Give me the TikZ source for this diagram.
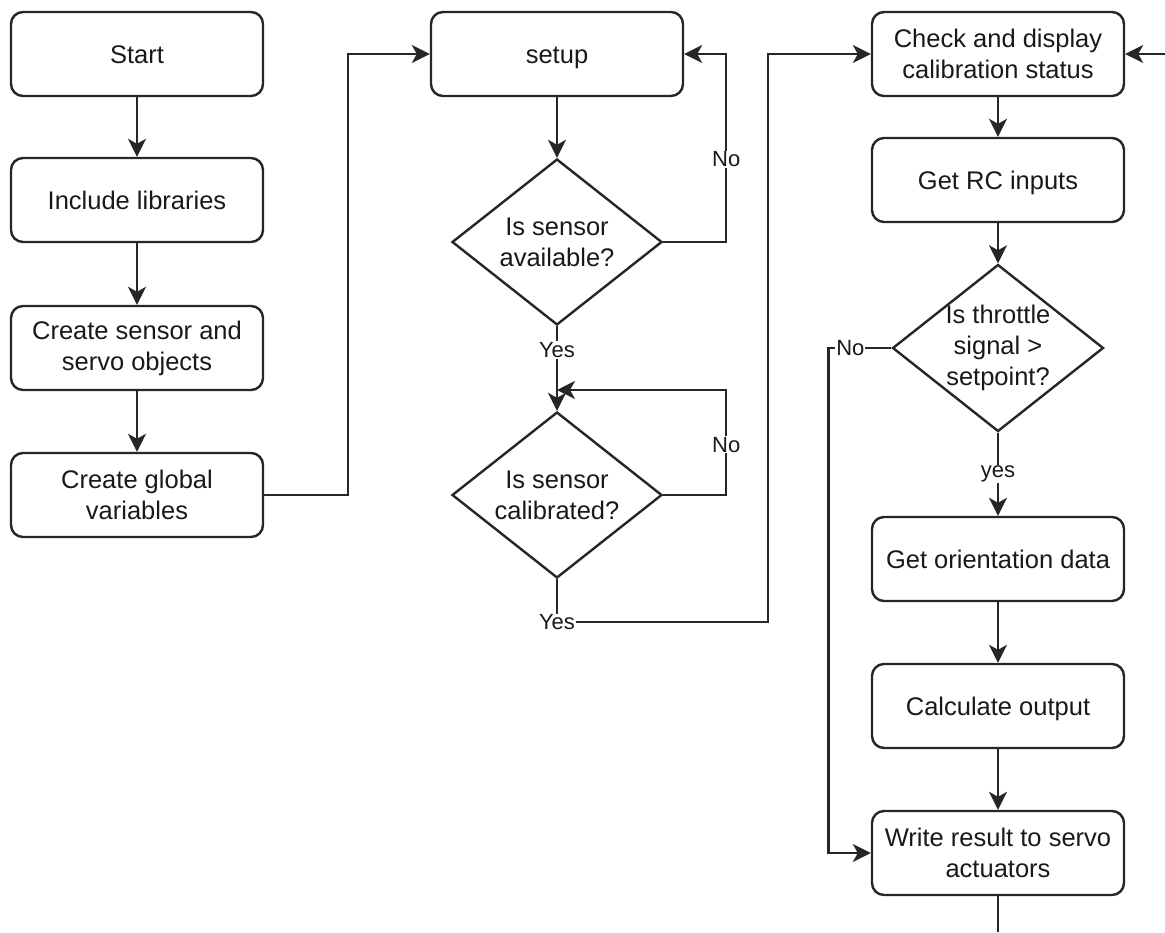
\documentclass[tikz,border=0pt]{standalone}
\usepackage{fontspec}
\setmainfont{Liberation Sans}
\usetikzlibrary{shapes.geometric,arrows.meta}
\begin{document}
\begin{tikzpicture}[x=1pt,y=-1pt,
  box/.style={draw=black!85,line width=2.4pt,rounded corners=12pt,minimum width=252pt,minimum height=84pt,align=center,font=\fontsize{25.5}{31}\selectfont,text=black!90,inner sep=0pt},
  one/.style={text height=18pt,text depth=0pt},
  dia/.style={draw=black!85,line width=2.4pt,diamond,inner sep=0pt},
  dtext/.style={align=center,font=\fontsize{25.5}{31}\selectfont,text=black!90},
  lbl/.style={fill=white,inner sep=1pt,font=\fontsize{22}{26}\selectfont,text=black!90},
  arr/.style={draw=black!85,line width=2.4pt,-{Stealth[length=18pt,width=18pt,inset=5pt]}},
  ln/.style={draw=black!85,line width=2.4pt}]
\useasboundingbox (0,0) rectangle (1165,932);
% column 1
\node[box,one] (start) at (137,54) {Start};
\node[box,one] (incl) at (137,200) {Include libraries};
\node[box] (objs) at (137,348) {Create sensor and\\servo objects};
\node[box] (glob) at (137,495) {Create global\\variables};
% column 2
\node[box,one] (setup) at (557,54) {setup};
\node[dia,minimum width=210pt,minimum height=166pt] (d1) at (557,242) {};
\node[dtext] at (d1.center) {Is sensor\\available?};
\node[dia,minimum width=210pt,minimum height=166pt] (d2) at (557,495) {};
\node[dtext] at (d2.center) {Is sensor\\calibrated?};
\coordinate (m2) at (557,390);
% column 3
\node[box] (check) at (998,54) {Check and display\\calibration status};
\node[box,one] (rc) at (998,180) {Get RC inputs};
\node[dia,minimum width=211pt,minimum height=167pt] (d3) at (998,348) {};
\node[dtext] at (d3.center) {Is throttle\\signal >\\setpoint?};
\node[box,one] (orient) at (998,559) {Get orientation data};
\node[box,one] (calc) at (998,706) {Calculate output};
\node[box] (write) at (998,853) {Write result to servo\\actuators};
\coordinate (bot) at (998,932);
\coordinate (rt) at (1165,54);
% connectors
\draw[arr] (start) -- (incl);
\draw[arr] (incl) -- (objs);
\draw[arr] (objs) -- (glob);
\draw[arr] (glob.east) -- ++(84,0) |- (setup.west);
\draw[arr] (setup) -- (d1);
\draw[arr] (d1.east) -- ++(63,0) |- (setup.east) node[lbl,pos=0.22]{No};
\draw[arr] (d1.south) -- (d2.north) node[lbl,pos=0.28]{Yes};
\draw[arr] (d2.east) -- ++(63,0) |- (m2) node[lbl,pos=0.24]{No};
\draw[arr] (d2.south) -- ++(0,43) node[lbl]{Yes} -- ++(211,0) |- (check.west);
\draw[arr] (check) -- (rc);
\draw[arr] (rc) -- (d3);
\draw[arr] (d3.south) -- (orient.north) node[lbl,pos=0.5]{yes};
\draw[arr] (orient) -- (calc);
\draw[arr] (calc) -- (write);
\draw[arr] (d3.west) -- node[lbl,pos=0.65]{No} ++(-63,0) |- (write.west);
\draw[ln] (write) -- (bot);
\draw[arr] (rt) -- (check.east);
\end{tikzpicture}
\end{document}
